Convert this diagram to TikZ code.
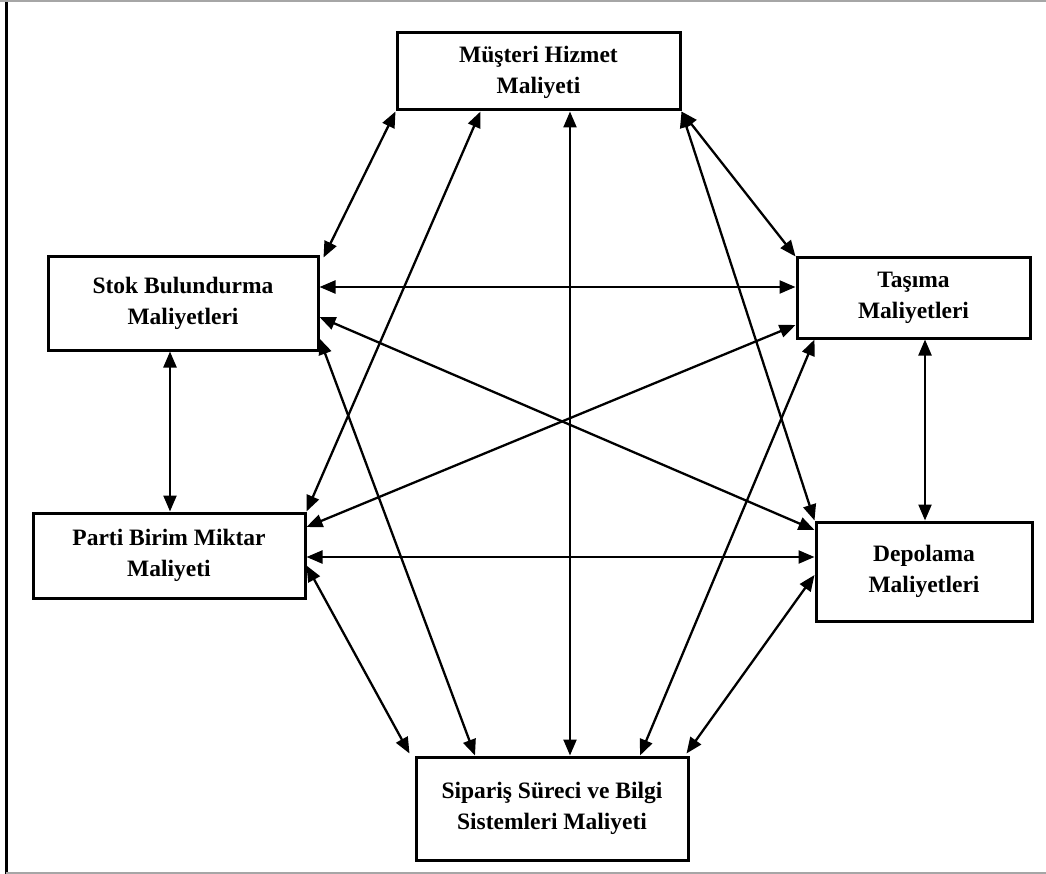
\documentclass[tikz,border=0pt]{standalone}
\usepackage{fontspec}
\setmainfont{Liberation Serif}
\usetikzlibrary{arrows.meta,calc}

\tikzset{
  costbox/.style={draw=black, line width=3pt, fill=white, inner sep=0pt,
    align=center, font=\bfseries\fontsize{23.5}{31}\selectfont},
  link/.style={line width=2.3pt, {Triangle[length=16pt,width=13pt]}-{Triangle[length=16pt,width=13pt]}}
}

\begin{document}
\begin{tikzpicture}[x=1pt, y=-1pt]
  \useasboundingbox (0,0) rectangle (1046,874);

  % page frame
  \draw[line width=3pt, black] (6,0) -- (6,874);
  \draw[line width=2pt, gray!70] (0,1) -- (1046,1);
  \draw[line width=2pt, gray!70] (6,873) -- (1046,873);

  % cost boxes
  \node[costbox, minimum width=283pt, minimum height=77pt]  (M)  at (538.5,71.5) {\raisebox{-5pt}{\begin{tabular}{@{}c@{}}Müşteri Hizmet\\Maliyeti\end{tabular}}};
  \node[costbox, minimum width=270pt, minimum height=93pt]  (S)  at (183,303.5)  {Stok Bulundurma\\Maliyetleri};
  \node[costbox, minimum width=233pt, minimum height=80pt]  (T)  at (913.5,298)  {Taşıma\\Maliyetleri};
  \node[costbox, minimum width=272pt, minimum height=85pt]  (P)  at (169,555.5)  {Parti Birim Miktar\\Maliyeti};
  \node[costbox, minimum width=216pt, minimum height=99pt]  (D)  at (924,571.5)  {Depolama\\Maliyetleri};
  \node[costbox, minimum width=272pt, minimum height=103pt] (Si) at (552,808.5)  {Sipariş Süreci ve Bilgi\\Sistemleri Maliyeti};

  % two-way links between the cost items
  \draw[link] (M.south west) -- ($(S.north east)+(4,2)$);
  \draw[link] ($(M.south)+(-58,0)$) -- (P.north east);
  \draw[link] ($(M.south)+(31.5,0)$) -- ($(Si.north)+(18,0)$);
  \draw[link] (M.south east) -- (T.north west);
  \draw[link] (M.south east) -- (D.north west);

  \draw[link] ($(S.east)+(0,-16.5)$) -- ($(T.west)+(0,-11)$);
  \draw[link] ($(S.east)+(0,13.5)$) -- ($(D.west)+(0,-41.5)$);
  \draw[link] ($(S.east)+(0,35)$) -- ($(Si.north)+(-77,0)$);
  \draw[link] ($(S.south)+(-13,0)$) -- ($(P.north)+(1,0)$);

  \draw[link] ($(T.south)+(11.5,0)$) -- ($(D.north)+(1,0)$);
  \draw[link] ($(T.west)+(0,27)$) -- ($(P.east)+(0,-28.5)$);
  \draw[link] ($(T.south west)+(19,0)$) -- ($(Si.north)+(88,0)$);

  \draw[link] ($(P.east)+(0,1.5)$) -- ($(D.west)+(0,-14.5)$);
  \draw[link] ($(P.east)+(0,10)$) -- ($(Si.north west)+(-5,-2)$);

  \draw[link] ($(D.west)+(0,3.5)$) -- ($(Si.north east)+(-3,-2)$);
\end{tikzpicture}
\end{document}
